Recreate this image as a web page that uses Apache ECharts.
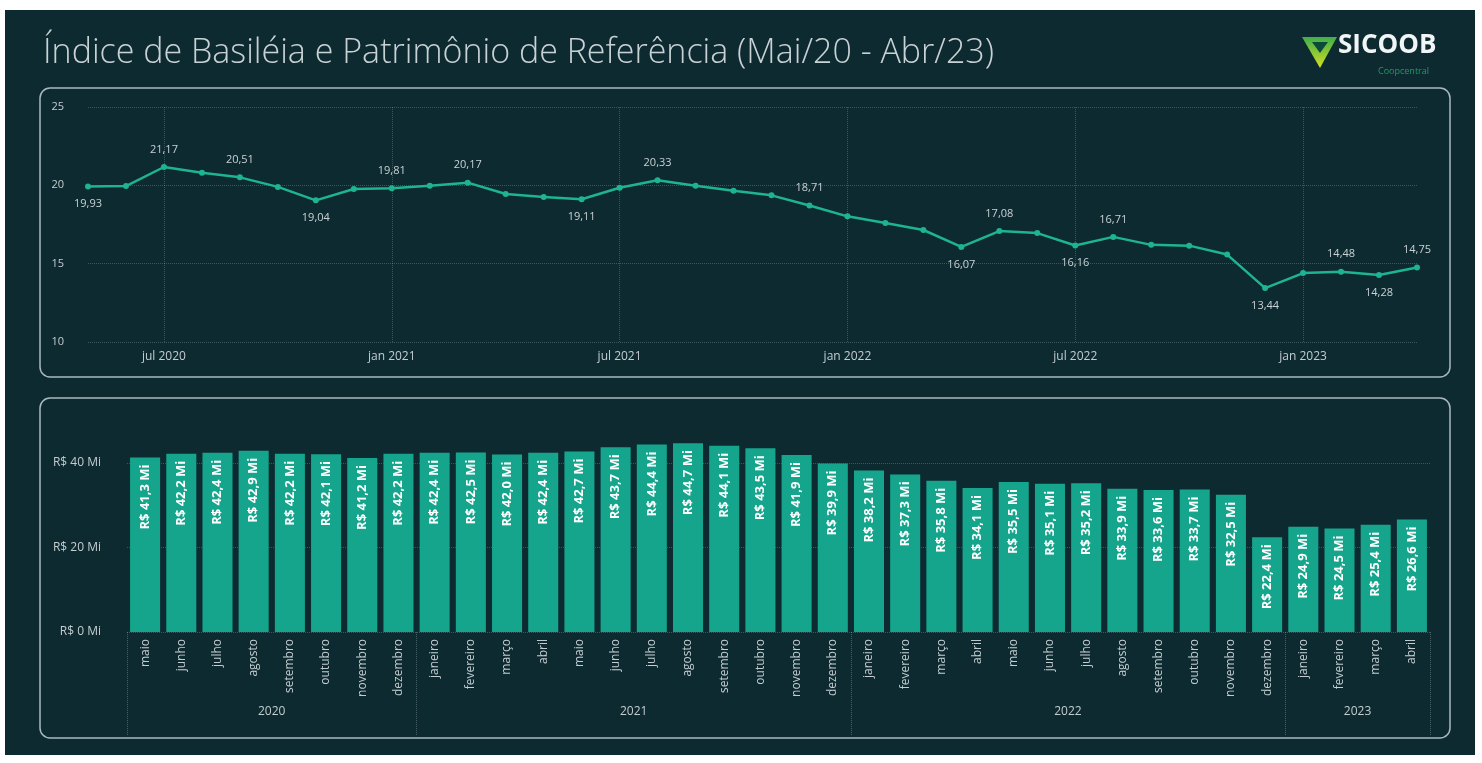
<!DOCTYPE html>
<html>
<head>
<meta charset="utf-8">
<script src="https://cdn.jsdelivr.net/npm/echarts@6/dist/echarts.min.js"></script>
<style>
html,body{margin:0;padding:0;background:#ffffff;}
#c{width:1482px;height:763px;}
</style>
</head>
<body>
<div id="c"></div>
<script>
// ---- DATA ----
const months = ['maio','junho','julho','agosto','setembro','outubro','novembro','dezembro',
  'janeiro','fevereiro','março','abril','maio','junho','julho','agosto','setembro','outubro','novembro','dezembro',
  'janeiro','fevereiro','março','abril','maio','junho','julho','agosto','setembro','outubro','novembro','dezembro',
  'janeiro','fevereiro','março','abril'];
const years = ['2020','2020','2020','2020','2020','2020','2020','2020',
  '2021','2021','2021','2021','2021','2021','2021','2021','2021','2021','2021','2021',
  '2022','2022','2022','2022','2022','2022','2022','2022','2022','2022','2022','2022',
  '2023','2023','2023','2023'];
const basileia = [19.93,19.95,21.17,20.80,20.51,19.90,19.04,19.77,19.81,19.98,20.17,19.45,
  19.26,19.11,19.85,20.33,19.98,19.66,19.36,18.71,18.02,17.60,17.15,16.07,
  17.08,16.95,16.16,16.71,16.20,16.15,15.58,13.44,14.40,14.48,14.28,14.75];
const patrimonio = [41.3,42.2,42.4,42.9,42.2,42.1,41.2,42.2,
  42.4,42.5,42.0,42.4,42.7,43.7,44.4,44.7,44.1,43.5,41.9,39.9,
  38.2,37.3,35.8,34.1,35.5,35.1,35.2,33.9,33.6,33.7,32.5,22.4,
  24.9,24.5,25.4,26.6];
const timeTickLabels = ['jul 2020','jan 2021','jul 2021','jan 2022','jul 2022','jan 2023'];
const timeTickIdx = [2,8,14,20,26,32];
const yTicksTop = [10,15,20,25];
const yTicksBottom = [0,20,40];
// points that carry a value label, and on which side
const labelSide = {0:'bottom',2:'top',4:'top',6:'bottom',8:'top',10:'top',13:'bottom',15:'top',
  19:'top',23:'bottom',24:'top',26:'bottom',27:'top',31:'bottom',33:'top',34:'bottom',35:'top'};

// ---- CHART ----
const W = 1482, H = 763;
const BG = '#0e2a31';
const TEAL_LINE = '#1db393';
const TEAL_BAR = '#14a58c';
const TXT = '#c3cdd0';
const GRID = 'rgba(180,200,205,0.28)';
const FONT = '"Open Sans", "Noto Sans", sans-serif';

const chart = echarts.init(document.getElementById('c'), null, {renderer:'canvas', width:W, height:H});
const catKeys = months.map((m,i)=>m+' '+years[i]+'#'+i);
const yearStart = {};
years.forEach((y,i)=>{ if(!(y in yearStart)) yearStart[y]=i; });
const yearCount = {};
years.forEach(y=>{ yearCount[y]=(yearCount[y]||0)+1; });
const yearLabelIdx = {};
Object.keys(yearStart).forEach(y=>{ yearLabelIdx[yearStart[y] + yearCount[y]/2 - 1] = y; });
const yearBoundaries = new Set(Object.values(yearStart));
yearBoundaries.add(months.length);

const fmt2 = v => v.toFixed(2).replace('.',',');
const fmtMi = v => 'R$ ' + v.toFixed(1).replace('.',',') + ' Mi';

const option = {
  backgroundColor: '#ffffff',
  animation: false,
  graphic: [
    {type:'rect', shape:{x:5,y:10,width:1470,height:745}, style:{fill:BG}, z:-10},
    {type:'rect', shape:{x:40,y:88,width:1410,height:289,r:10}, style:{fill:'none',stroke:'#a9b9bd',lineWidth:1.5}, z:-5},
    {type:'rect', shape:{x:40,y:398,width:1410,height:340,r:10}, style:{fill:'none',stroke:'#a9b9bd',lineWidth:1.5}, z:-5},
    {type:'text', left:43, top:36, style:{text:'Índice de Basiléia e Patrimônio de Referência (Mai/20 - Abr/23)',
      fill:'#c8d2d5', font:'300 34px ' + FONT}},
    // logo
    {type:'polygon', shape:{points:[[1302,37],[1337,37],[1320,68]]}, style:{fill:new echarts.graphic.LinearGradient(0,0,0,1,[{offset:0,color:'#3fae4a'},{offset:1,color:'#d6e021'}])}},
    {type:'polygon', shape:{points:[[1312,42],[1328,42],[1320,53]]}, style:{fill:'#0d4a3a'}},
    {type:'text', left:1338, top:33, style:{text:'SICOOB', fill:'#f2f5f5', font:'bold 26px ' + FONT}},
    {type:'text', left:1378, top:67, style:{text:'Coopcentral', fill:'#1f9b62', font:'9px ' + FONT}}
  ],
  grid: [
    {left:88, right:65, top:107, height:235},
    {left:127, right:52, top:463, height:169}
  ],
  xAxis: [
    {
      gridIndex:0, type:'category', data:catKeys, boundaryGap:false, position:'bottom',
      axisLine:{show:false}, axisTick:{show:false},
      axisLabel:{
        interval:(i)=>timeTickIdx.indexOf(i)>=0,
        formatter:(v,i)=>{ const k=timeTickIdx.indexOf(i); return k>=0?timeTickLabels[k]:''; },
        color:TXT, fontSize:12, margin:9, fontFamily:FONT
      },
      splitLine:{show:true, interval:(i)=>timeTickIdx.indexOf(i)>=0, lineStyle:{color:GRID, type:'dotted', width:1}}
    },
    {
      gridIndex:1, type:'category', data:catKeys, position:'bottom',
      axisLine:{show:false}, axisTick:{show:false},
      axisLabel:{
        interval:0, rotate:90, formatter:(v,i)=>months[i],
        color:TXT, fontSize:12, margin:7, fontFamily:FONT
      }
    },
    {
      gridIndex:1, type:'category', data:catKeys, position:'bottom', offset:0,
      axisLine:{show:false},
      axisTick:{show:true, length:103, interval:(i)=>yearBoundaries.has(i), lineStyle:{color:'rgba(180,200,205,0.35)', type:'dotted'}},
      axisLabel:{
        interval:(i)=> (i in yearLabelIdx),
        formatter:(v,i)=> yearLabelIdx[i] || '',
        padding:[0,0,0,36],
        color:TXT, fontSize:12, margin:74, fontFamily:FONT
      }
    }
  ],
  yAxis: [
    {
      gridIndex:0, type:'value', min:yTicksTop[0], max:yTicksTop[yTicksTop.length-1], interval:5,
      axisLine:{show:false}, axisTick:{show:false},
      axisLabel:{color:TXT, fontSize:11, margin:24, fontFamily:FONT},
      splitLine:{lineStyle:{color:GRID, type:'dotted'}}
    },
    {
      gridIndex:1, type:'value', min:yTicksBottom[0], max:yTicksBottom[yTicksBottom.length-1], interval:20,
      axisLine:{show:false}, axisTick:{show:false},
      axisLabel:{color:TXT, fontSize:12, margin:26, formatter:v=>'R$ '+v+' Mi', fontFamily:FONT},
      splitLine:{lineStyle:{color:GRID, type:'dotted'}}
    }
  ],
  series: [
    {
      type:'line', xAxisIndex:0, yAxisIndex:0,
      data: basileia.map((v,i)=>{
        const side = labelSide[i];
        return side ? {value:v, label:{show:true, position:side}} : {value:v};
      }),
      symbol:'circle', symbolSize:6,
      lineStyle:{color:TEAL_LINE, width:2.5},
      itemStyle:{color:TEAL_LINE},
      label:{show:false, color:'#c9d2d4', fontSize:11, distance:9, formatter:p=>fmt2(p.value), fontFamily:FONT}
    },
    {
      type:'bar', xAxisIndex:1, yAxisIndex:1, data:patrimonio, clip:false,
      barCategoryGap:'17%',
      itemStyle:{color:TEAL_BAR},
      label:{show:true, position:'insideTop', rotate:90, align:'right', verticalAlign:'middle', distance:7,
        color:'#ffffff', fontWeight:'bold', fontSize:13, formatter:p=>fmtMi(p.value), fontFamily:FONT}
    }
  ]
};
chart.setOption(option);
</script>
</body>
</html>
